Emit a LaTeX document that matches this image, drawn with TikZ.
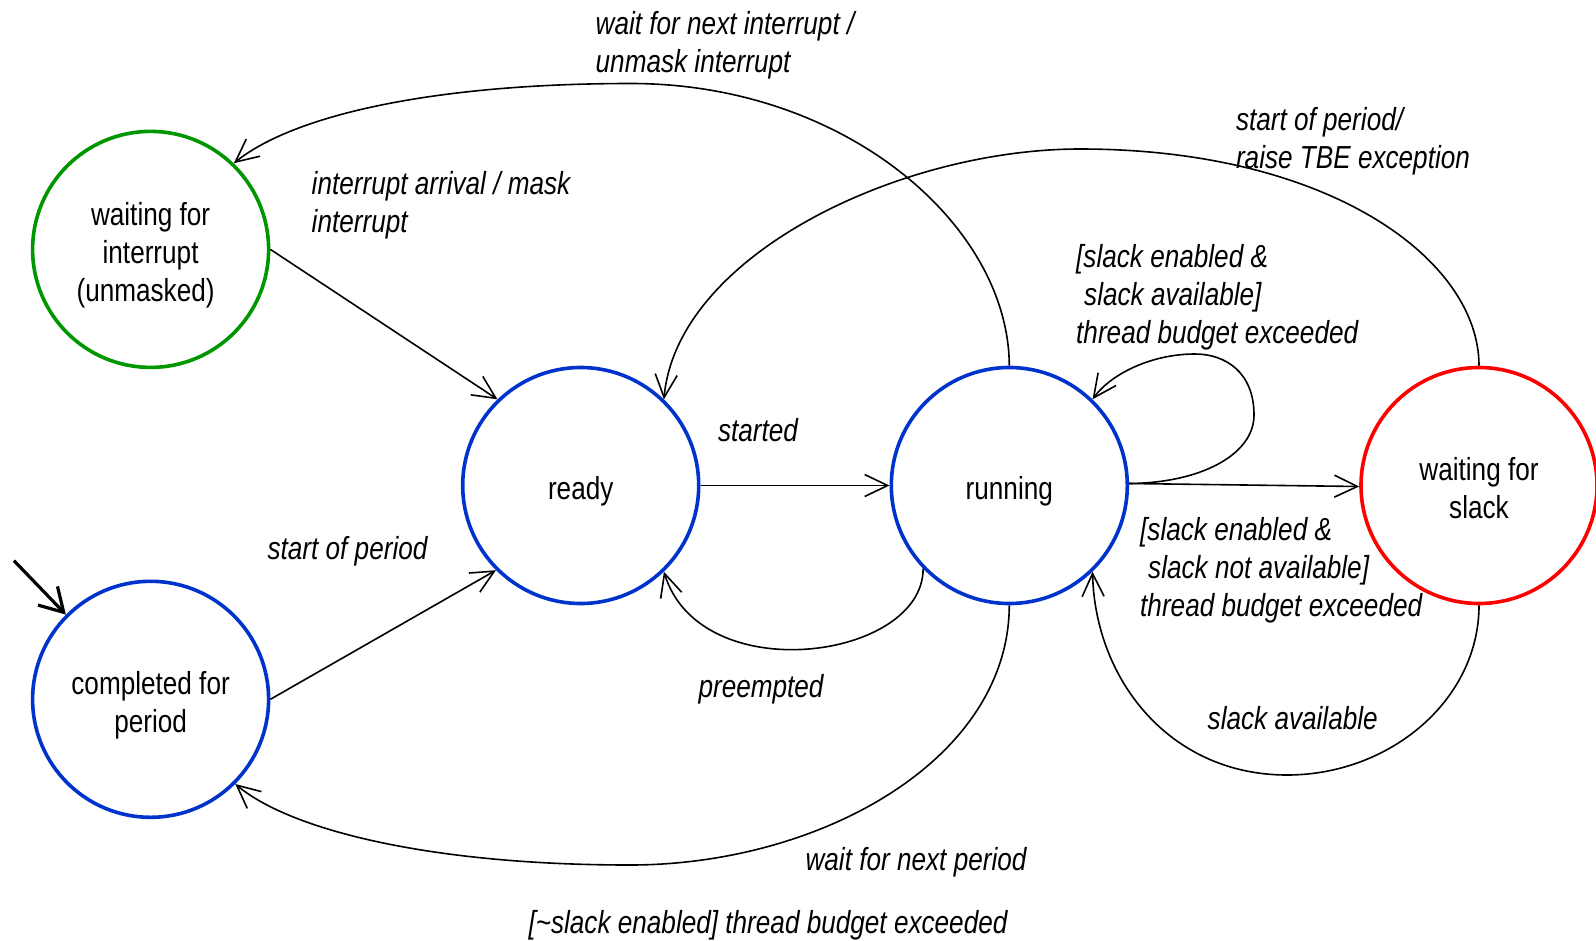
\documentclass[tikz,border=0pt]{standalone}
\usepackage{fontspec}
\setmainfont{Liberation Sans}[FakeStretch=0.82]
\usetikzlibrary{arrows.meta}
\definecolor{sgreen}{RGB}{0,150,0}
\definecolor{sblue}{RGB}{0,51,204}
\definecolor{sred}{RGB}{255,0,0}
\newcommand{\topst}{\rule{0pt}{35bp}}
\newcommand{\botst}{\rule[-7bp]{0pt}{0pt}}
\begin{document}
\begin{tikzpicture}[x=1bp,y=-1bp,
  state/.style={circle, draw, line width=3.6bp, minimum size=236bp, inner sep=0pt, align=center, font=\fontsize{32}{38}\selectfont},
  lbl/.style={font=\fontsize{32}{38}\selectfont\itshape, inner sep=0pt},
  tr/.style={line width=1.6bp, -{Straight Barb[length=23bp,width=22bp,line width=1.6bp]}},
  init/.style={line width=3.2bp, -{Straight Barb[length=23bp,width=27bp,line width=3.2bp]}}
]
\useasboundingbox (0,0) rectangle (1596,940);

\node[state, draw=sgreen] (WFI) at (150.6,249.4) {\topst waiting for\\interrupt\\(unmasked)\hspace*{10bp}\botst};
\node[state, draw=sblue] (CFP) at (150.6,699.3) {\topst completed for\\period\botst};
\node[state, draw=sblue] (ready) at (580.7,485.5) {\topst ready\botst};
\node[state, draw=sblue] (running) at (1009.3,485.5) {\topst running\botst};
\node[state, draw=sred] (WFS) at (1479,485.5) {\topst waiting for\\slack\botst};

\coordinate (start) at (14,560.7);
\draw[init] (start) -- (CFP.135);

\draw[tr] (WFI.east) -- (ready.134);
\draw[tr] (CFP.east) -- (ready.225);
\draw[tr] (ready.east) -- (running.west);
\draw[tr] (running.224) .. controls (923,660) and (700,690) .. (ready.314);
\draw[tr] (running.north) .. controls (1008.7,225) and (845,83.5) .. (631,83.5)
  .. controls (437,83.5) and (295,114) .. (WFI.46);
\draw[tr] (WFS.north) .. controls (1479,260) and (1330,149) .. (1080,149)
  .. controls (900,149) and (677,255) .. (ready.46.5);
\draw[tr] ([yshift=2bp]running.east) .. controls (1200,483) and (1254,455) .. (1254,415)
  .. controls (1254,372) and (1225,354) .. (1195,354)
  .. controls (1150,354) and (1110,375) .. (running.46.5);
\draw[tr] ([yshift=2bp]running.east) -- ([yshift=-1bp]WFS.west);
\draw[tr] (WFS.south) .. controls (1479,700) and (1390,775) .. (1287,775)
  .. controls (1170,775) and (1095,680) .. (running.314);
\draw[tr] (running.south) .. controls (1008.7,760) and (820,865) .. (630,865)
  .. controls (430,865) and (290,830) .. (CFP.315);

\node[lbl, anchor=west, align=left] (lwni) at (595.5,45.2) {wait for next interrupt /\\unmask interrupt};
\node[lbl, anchor=west, align=left] (liam) at (311.5,205) {interrupt arrival / mask\\interrupt};
\node[lbl, anchor=west, align=left] (lsopr) at (1235.8,141.4) {start of period/\\raise TBE exception};
\node[lbl, anchor=west, align=left] (lsea) at (1076,297.5) {[slack enabled \&\\\hspace{8bp}slack available]\\thread budget exceeded};
\node[lbl, anchor=west, align=left] (lsena) at (1140,570) {[slack enabled \&\\\hspace{8bp}slack not available]\\thread budget exceeded};
\node[lbl] (lstarted) at (758,430.6) {started};
\node[lbl] (lpre) at (761,689) {preempted};
\node[lbl] (lsop) at (347.5,551.6) {start of period};
\node[lbl] (lsa) at (1292.7,717.6) {slack available};
\node[lbl] (lwnp) at (916,862) {wait for next period};
\node[lbl] (ltbe) at (768,925) {[\textasciitilde slack enabled] thread budget exceeded};
\end{tikzpicture}
\end{document}
